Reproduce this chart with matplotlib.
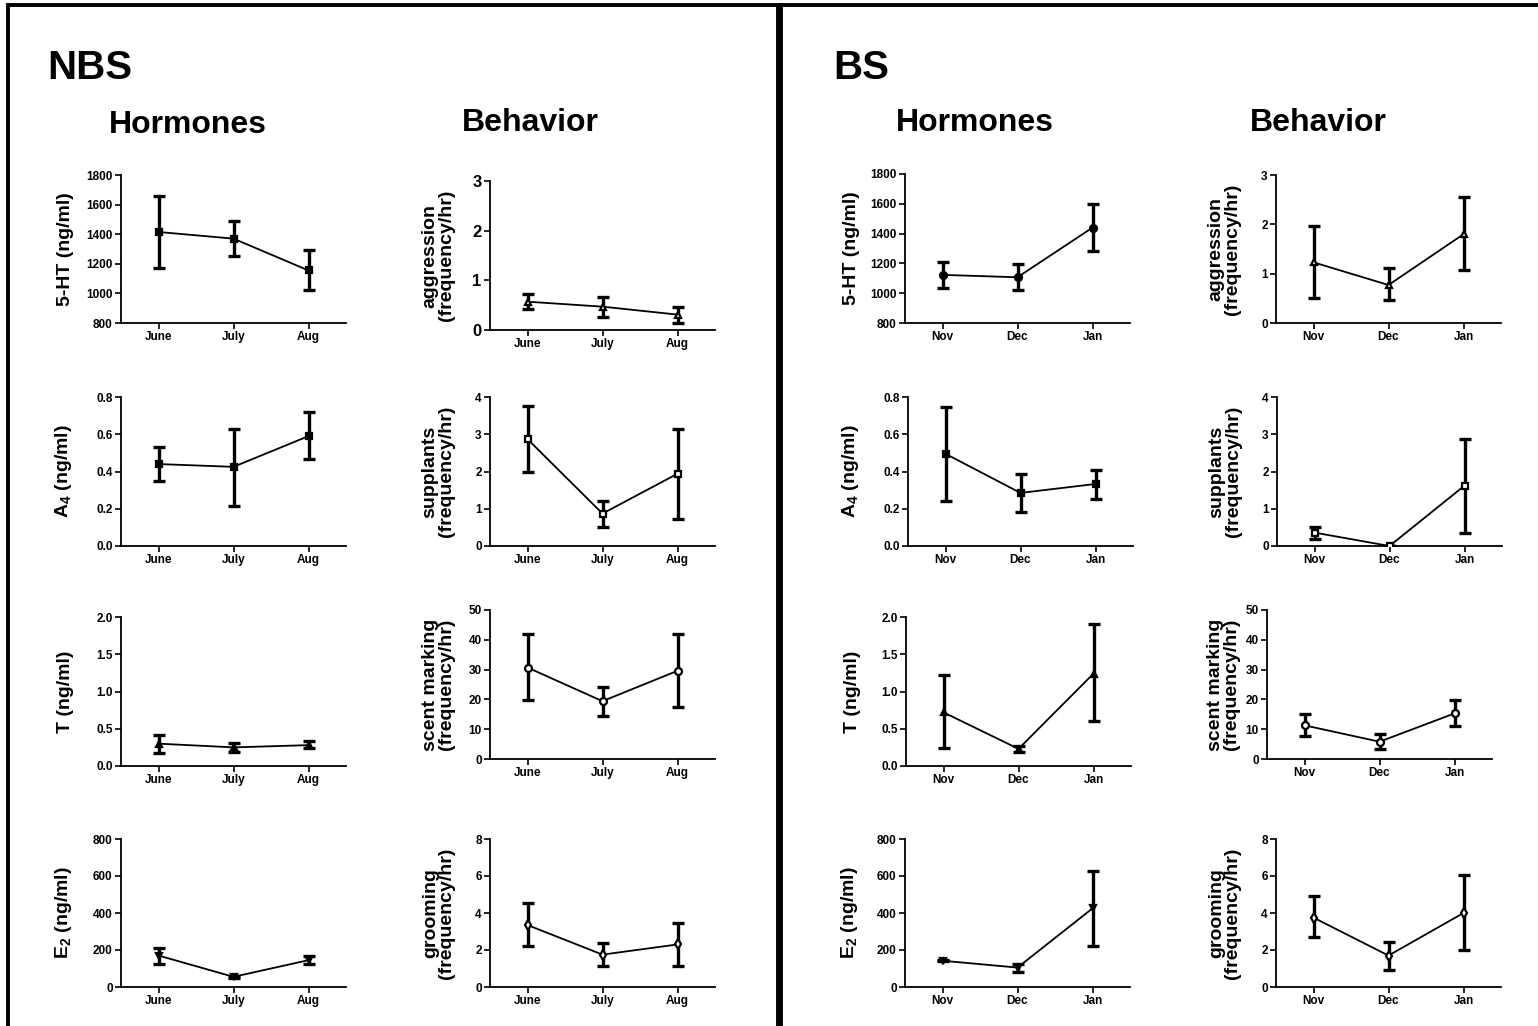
import matplotlib
matplotlib.use("Agg")
import matplotlib.pyplot as plt
from matplotlib.patches import Rectangle
from matplotlib.ticker import FormatStrFormatter

plt.rcParams['font.family'] = ['Liberation Sans', 'DejaVu Sans']
plt.rcParams['font.weight'] = 'bold'
plt.rcParams['mathtext.fontset'] = 'custom'
plt.rcParams['mathtext.rm'] = 'Liberation Sans:bold'
plt.rcParams['mathtext.it'] = 'Liberation Sans:bold'
plt.rcParams['mathtext.bf'] = 'Liberation Sans:bold'

W, H = 1538, 1026

# months
nbs_months = ["June", "July", "Aug"]
bs_months = ["Nov", "Dec", "Jan"]

# NBS hormones: mean, low, high
nbs_5ht = [1415, 1370, 1155]
nbs_5ht_lo = [1170, 1255, 1020]
nbs_5ht_hi = [1655, 1487, 1290]
nbs_a4 = [0.44, 0.425, 0.59]
nbs_a4_lo = [0.35, 0.215, 0.465]
nbs_a4_hi = [0.53, 0.63, 0.72]
nbs_t = [0.30, 0.25, 0.28]
nbs_t_lo = [0.17, 0.19, 0.24]
nbs_t_hi = [0.42, 0.31, 0.33]
nbs_e2 = [170, 55, 145]
nbs_e2_lo = [122, 48, 125]
nbs_e2_hi = [210, 62, 170]

# NBS behavior
nbs_aggr = [0.57, 0.47, 0.31]
nbs_aggr_lo = [0.43, 0.27, 0.15]
nbs_aggr_hi = [0.72, 0.67, 0.47]
nbs_supp = [2.87, 0.87, 1.94]
nbs_supp_lo = [2.0, 0.52, 0.73]
nbs_supp_hi = [3.75, 1.22, 3.14]
nbs_scent = [30.7, 19.4, 29.6]
nbs_scent_lo = [19.7, 14.5, 17.3]
nbs_scent_hi = [41.8, 24.3, 42.0]
nbs_groom = [3.35, 1.75, 2.3]
nbs_groom_lo = [2.2, 1.15, 1.15]
nbs_groom_hi = [4.55, 2.4, 3.45]

# BS hormones
bs_5ht = [1123, 1107, 1440]
bs_5ht_lo = [1035, 1020, 1280]
bs_5ht_hi = [1210, 1195, 1600]
bs_a4 = [0.495, 0.285, 0.333]
bs_a4_lo = [0.24, 0.18, 0.255]
bs_a4_hi = [0.745, 0.385, 0.41]
bs_t = [0.72, 0.23, 1.24]
bs_t_lo = [0.24, 0.19, 0.6]
bs_t_hi = [1.22, 0.27, 1.9]
bs_e2 = [142, 105, 425]
bs_e2_lo = [138, 80, 220]
bs_e2_hi = [146, 125, 625]

# BS behavior
bs_aggr = [1.23, 0.77, 1.8]
bs_aggr_lo = [0.5, 0.47, 1.07]
bs_aggr_hi = [1.97, 1.12, 2.55]
bs_supp = [0.36, 0.0, 1.62]
bs_supp_lo = [0.2, 0.0, 0.35]
bs_supp_hi = [0.52, 0.0, 2.87]
bs_scent = [11.3, 5.8, 15.3]
bs_scent_lo = [7.6, 3.5, 11.0]
bs_scent_hi = [15.0, 8.3, 19.8]
bs_groom = [3.75, 1.7, 4.0]
bs_groom_lo = [2.7, 0.9, 2.0]
bs_groom_hi = [4.9, 2.45, 6.05]

lab_5ht = "5-HT (ng/ml)"
lab_a4 = "A$_4$ (ng/ml)"
lab_t = "T (ng/ml)"
lab_e2 = "E$_2$ (ng/ml)"
lab_aggr = "aggression\n(frequency/hr)"
lab_supp = "supplants\n(frequency/hr)"
lab_scent = "scent marking\n(frequency/hr)"
lab_groom = "grooming\n(frequency/hr)"

ticks_5ht = [800, 1000, 1200, 1400, 1600, 1800]
ticks_a4 = [0.0, 0.2, 0.4, 0.6, 0.8]
ticks_t = [0.0, 0.5, 1.0, 1.5, 2.0]
ticks_e2 = [0, 200, 400, 600, 800]
ticks_aggr = [0, 1, 2, 3]
ticks_supp = [0, 1, 2, 3, 4]
ticks_scent = [0, 10, 20, 30, 40, 50]
ticks_groom = [0, 2, 4, 6, 8]

# panel specs: (x0 px, top px, bottom px, months, mean, lo, hi, marker, filled, label, ticks, fmt, ytick fontsize, label x)
panels = [
    (121, 175, 323, nbs_months, nbs_5ht, nbs_5ht_lo, nbs_5ht_hi, 's', True, lab_5ht, ticks_5ht, '%d', 8.5, -0.21),
    (490, 181, 330, nbs_months, nbs_aggr, nbs_aggr_lo, nbs_aggr_hi, '^', False, lab_aggr, ticks_aggr, '%d', 12, -0.155),
    (905, 174, 323, bs_months, bs_5ht, bs_5ht_lo, bs_5ht_hi, 'o', True, lab_5ht, ticks_5ht, '%d', 8.5, -0.2),
    (1276, 175, 323, bs_months, bs_aggr, bs_aggr_lo, bs_aggr_hi, '^', False, lab_aggr, ticks_aggr, '%d', 8.5, -0.155),
    (121, 397, 546, nbs_months, nbs_a4, nbs_a4_lo, nbs_a4_hi, 's', True, lab_a4, ticks_a4, '%.1f', 8.5, -0.21),
    (490, 397, 546, nbs_months, nbs_supp, nbs_supp_lo, nbs_supp_hi, 's', False, lab_supp, ticks_supp, '%d', 8.5, -0.155),
    (908, 397, 546, bs_months, bs_a4, bs_a4_lo, bs_a4_hi, 's', True, lab_a4, ticks_a4, '%.1f', 8.5, -0.21),
    (1277, 397, 546, bs_months, bs_supp, bs_supp_lo, bs_supp_hi, 's', False, lab_supp, ticks_supp, '%d', 8.5, -0.155),
    (121, 617, 766, nbs_months, nbs_t, nbs_t_lo, nbs_t_hi, '^', True, lab_t, ticks_t, '%.1f', 8.5, -0.21),
    (490, 610, 759, nbs_months, nbs_scent, nbs_scent_lo, nbs_scent_hi, 'o', False, lab_scent, ticks_scent, '%d', 8.5, -0.155),
    (906, 617, 766, bs_months, bs_t, bs_t_lo, bs_t_hi, '^', True, lab_t, ticks_t, '%.1f', 8.5, -0.2),
    (1267, 610, 759, bs_months, bs_scent, bs_scent_lo, bs_scent_hi, 'o', False, lab_scent, ticks_scent, '%d', 8.5, -0.12),
    (121, 839, 987, nbs_months, nbs_e2, nbs_e2_lo, nbs_e2_hi, 'v', True, lab_e2, ticks_e2, '%d', 8.5, -0.21),
    (490, 839, 987, nbs_months, nbs_groom, nbs_groom_lo, nbs_groom_hi, 'd', False, lab_groom, ticks_groom, '%d', 8.5, -0.155),
    (905, 839, 987, bs_months, bs_e2, bs_e2_lo, bs_e2_hi, 'v', True, lab_e2, ticks_e2, '%d', 8.5, -0.2),
    (1276, 839, 987, bs_months, bs_groom, bs_groom_lo, bs_groom_hi, 'd', False, lab_groom, ticks_groom, '%d', 8.5, -0.155),
]

fig = plt.figure(figsize=(W / 100, H / 100), dpi=100)

# panel frames
fig.add_artist(Rectangle((8 / W, -0.05), (778 - 8) / W, 1.05 - 5 / H, transform=fig.transFigure,
                         fill=False, lw=2.8, ec='black'))
fig.add_artist(Rectangle((781 / W, -0.05), 0.6, 1.05 - 5 / H, transform=fig.transFigure,
                         fill=False, lw=2.8, ec='black'))

fig.text(47 / W, 1 - 68 / H, "NBS", fontsize=29, fontweight='bold', va='center', ha='left')
fig.text(833 / W, 1 - 68 / H, "BS", fontsize=29, fontweight='bold', va='center', ha='left')
for cx, cy, t in [(188, 125, "Hormones"), (530, 123, "Behavior"),
                  (975, 123, "Hormones"), (1318, 123, "Behavior")]:
    fig.text(cx / W, 1 - cy / H, t, fontsize=23, fontweight='bold', va='center', ha='center')

for x0, top, bot, months, mean, lo, hi, mk, filled, lab, ticks, fmt, yfs, lx in panels:
    ax = fig.add_axes([x0 / W, 1 - bot / H, 225 / W, (bot - top) / H])
    x = list(range(len(months)))
    yerr = [[m - l for m, l in zip(mean, lo)], [h - m for m, h in zip(mean, hi)]]
    ax.plot(x, mean, color='black', lw=1.3, zorder=2)
    ax.errorbar(x, mean, yerr=yerr, fmt='none', ecolor='black', elinewidth=2.4,
                capsize=4, capthick=2.4, zorder=3)
    ax.plot(x, mean, linestyle='none', marker=mk, ms=5 if mk != 'd' else 5.5,
            mfc='black' if filled else 'white', mec='black', mew=1.6, zorder=4)
    ax.set_xlim(-0.5, 2.5)
    ax.set_ylim(ticks[0], ticks[-1])
    ax.set_yticks(ticks)
    ax.yaxis.set_major_formatter(FormatStrFormatter(fmt))
    ax.set_xticks(x)
    ax.set_xticklabels(months)
    for s in ['top', 'right']:
        ax.spines[s].set_visible(False)
    for s in ['left', 'bottom']:
        ax.spines[s].set_linewidth(1.3)
    ax.tick_params(axis='y', labelsize=yfs, length=4, width=1.2, pad=2)
    ax.tick_params(axis='x', labelsize=8.5, length=4, width=1.2, pad=2)
    for t in ax.get_xticklabels() + ax.get_yticklabels():
        t.set_fontweight('bold')
    ax.set_ylabel(lab, fontsize=14, fontweight='bold', linespacing=0.95)
    ax.yaxis.set_label_coords(lx, 0.5)
    ax.patch.set_alpha(0)

fig.savefig("out.png", dpi=100)
